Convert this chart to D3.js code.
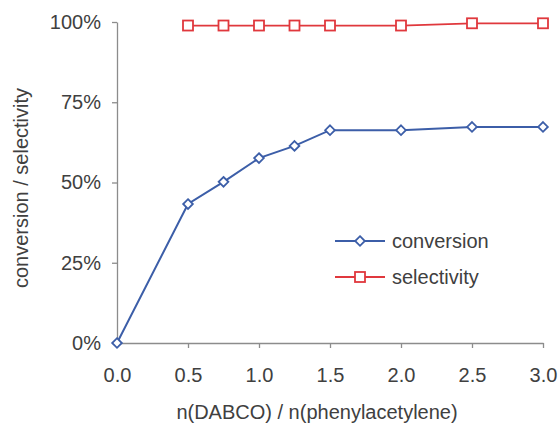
<!DOCTYPE html>
<html>
<head>
<meta charset="utf-8">
<script src="https://cdn.jsdelivr.net/npm/d3@7"></script>
<style>
  body { margin: 0; background: #fff; }
  text { font-family: "Liberation Sans", Arial, sans-serif; fill: #404040; }
</style>
</head>
<body>
<div id="chart"></div>
<script>
// data
var ratio = [0, 0.5, 0.75, 1.0, 1.25, 1.5, 2.0, 2.5, 3.0];
var conversion = [0, 43.3, 50.2, 57.6, 61.4, 66.3, 66.3, 67.3, 67.3];
var selRatio = [0.5, 0.75, 1.0, 1.25, 1.5, 2.0, 2.5, 3.0];
var selectivity = [98.9, 98.9, 98.9, 98.9, 98.9, 98.9, 99.6, 99.6];
var xTicks = [0, 0.5, 1.0, 1.5, 2.0, 2.5, 3.0];
var yTicks = [0, 25, 50, 75, 100];

var margin = {top: 22, right: 16, bottom: 85, left: 117},
  width = 559 - margin.left - margin.right,
  height = 428 - margin.top - margin.bottom;

var svg = d3.select("#chart")
  .append("svg")
    .attr("width", 559)
    .attr("height", 428)
  .append("g")
    .attr("transform", "translate(" + margin.left + "," + margin.top + ")");

var x = d3.scaleLinear().domain([0, 3]).range([0, 426]);
var y = d3.scaleLinear().domain([0, 100]).range([height, 0]);

var blue = "#3c5ea8", red = "#e0383d", axisCol = "#8c8c8c";

// axes
var xAxis = svg.append("g")
  .attr("transform", "translate(0," + height + ")")
  .call(d3.axisBottom(x).tickValues(xTicks).tickFormat(d3.format(".1f")).tickSize(5).tickSizeOuter(0));
var yAxis = svg.append("g")
  .call(d3.axisLeft(y).tickValues(yTicks).tickFormat(function(d) { return d + "%"; }).tickSize(5).tickSizeOuter(0));

[xAxis, yAxis].forEach(function(a) {
  a.selectAll("path, line").attr("stroke", axisCol).attr("stroke-width", 1.3);
  a.selectAll("text").style("font-size", "20px").attr("fill", "#404040");
});
xAxis.selectAll("text").attr("y", 32).attr("dy", "0.35em");
yAxis.selectAll("text").attr("x", -16).attr("dy", "0.32em");

// lines
var line = d3.line().x(function(d) { return x(d[0]); }).y(function(d) { return y(d[1]); });
var convData = ratio.map(function(r, i) { return [r, conversion[i]]; });
var selData = selRatio.map(function(r, i) { return [r, selectivity[i]]; });

svg.append("path").datum(selData).attr("d", line)
  .style("fill", "none").style("stroke", red).style("stroke-width", 1.8);
svg.append("path").datum(convData).attr("d", line)
  .style("fill", "none").style("stroke", blue).style("stroke-width", 2);

// markers
svg.selectAll("mySq").data(selData).enter().append("rect")
  .attr("x", function(d) { return x(d[0]) - 5; })
  .attr("y", function(d) { return y(d[1]) - 5; })
  .attr("width", 10).attr("height", 10)
  .style("fill", "#fff").style("stroke", red).style("stroke-width", 1.8);

var diamond = d3.symbol().type(d3.symbolDiamond2).size(60);
svg.selectAll("myDia").data(convData).enter().append("path")
  .attr("d", diamond)
  .attr("transform", function(d) { return "translate(" + x(d[0]) + "," + y(d[1]) + ")"; })
  .style("fill", "#fff").style("stroke", blue).style("stroke-width", 1.8);

// legend
var legend = [["conversion", blue, "dia"], ["selectivity", red, "sq"]];
legend.forEach(function(l, i) {
  var g = svg.append("g").attr("transform", "translate(" + (335 - margin.left) + "," + (241 - margin.top + i * 36) + ")");
  g.append("line").attr("x1", 0).attr("x2", 50).attr("y1", 0).attr("y2", 0)
    .style("stroke", l[1]).style("stroke-width", 2);
  if (l[2] == "dia") {
    g.append("path").attr("d", diamond).attr("transform", "translate(25,0)")
      .style("fill", "#fff").style("stroke", l[1]).style("stroke-width", 1.8);
  } else {
    g.append("rect").attr("x", 20).attr("y", -5).attr("width", 10).attr("height", 10)
      .style("fill", "#fff").style("stroke", l[1]).style("stroke-width", 1.8);
  }
  g.append("text").attr("x", 57).attr("y", 0).attr("dy", "0.35em")
    .style("font-size", "20px").text(l[0]);
});

// axis titles
svg.append("text")
  .attr("x", 317 - margin.left).attr("y", 419 - margin.top)
  .style("text-anchor", "middle").style("font-size", "20px")
  .text("n(DABCO) / n(phenylacetylene)");
svg.append("text")
  .attr("transform", "translate(" + (28 - margin.left) + "," + (188 - margin.top) + ") rotate(-90)")
  .style("text-anchor", "middle").style("font-size", "20px")
  .text("conversion / selectivity");
</script>
</body>
</html>
